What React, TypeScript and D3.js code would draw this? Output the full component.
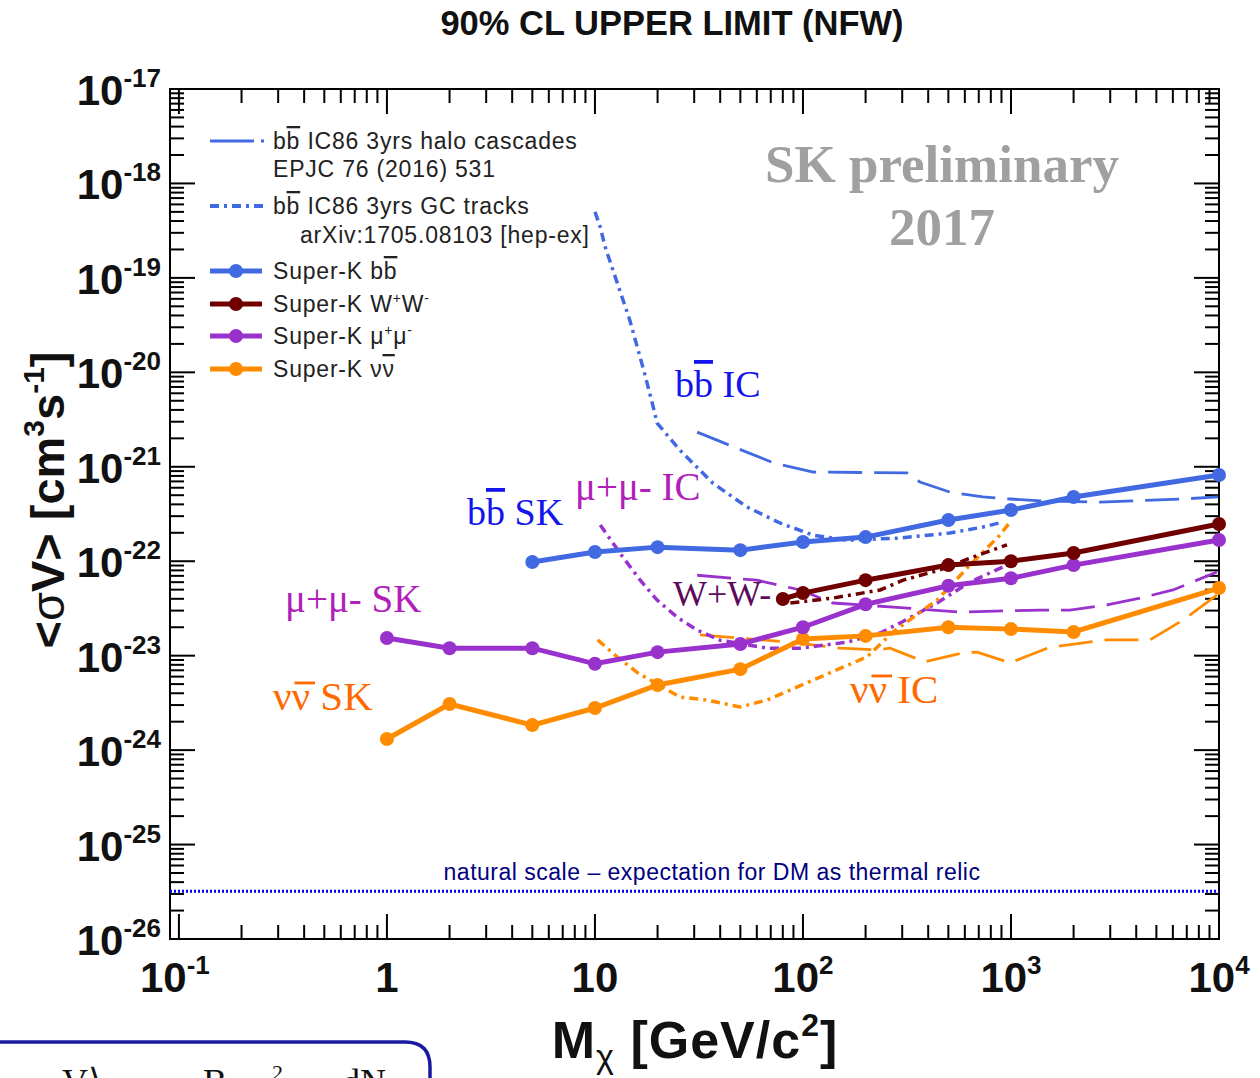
import React from 'react';
import * as d3 from 'd3';

// ---------- data ----------
const skMassBB = [5, 10, 20, 50, 100, 200, 500, 1000, 2000, 10000];
const skBB = [9.8e-23, 1.25e-22, 1.41e-22, 1.31e-22, 1.6e-22, 1.8e-22, 2.73e-22, 3.48e-22, 4.79e-22, 8.18e-22];
const skMassWW = [80, 100, 200, 500, 1000, 2000, 10000];
const skWW = [3.98e-23, 4.6e-23, 6.3e-23, 9.1e-23, 1.0e-22, 1.22e-22, 2.48e-22];
const skMassLep = [1, 2, 5, 10, 20, 50, 100, 200, 500, 1000, 2000, 10000];
const skMuMu = [1.54e-23, 1.2e-23, 1.2e-23, 8.2e-24, 1.09e-23, 1.33e-23, 2.0e-23, 3.5e-23, 5.5e-23, 6.6e-23, 9.1e-23, 1.68e-22];
const skNuNu = [1.31e-24, 3.08e-24, 1.84e-24, 2.79e-24, 4.89e-24, 7.2e-24, 1.5e-23, 1.62e-23, 2.0e-23, 1.91e-23, 1.78e-23, 5.2e-23];

const icBBHaloM = [31, 72, 112, 316, 365, 509, 733, 990, 1425, 2680, 6710, 9900];
const icBBHaloV = [2.33e-21, 1.1e-21, 8.8e-22, 8.6e-22, 6.9e-22, 5.4e-22, 4.79e-22, 4.56e-22, 4.34e-22, 4.23e-22, 4.56e-22, 4.79e-22];
const icBBGCM = [10, 10.6, 11.2, 14.7, 17.4, 18.8, 19.9, 25.6, 36.9, 53.8, 77.5, 112, 163, 293, 509, 733, 915];
const icBBGCV = [5.0e-19, 3.46e-19, 2.12e-19, 3.58e-20, 9.4e-21, 4.85e-21, 2.9e-21, 1.5e-21, 6.7e-22, 3.75e-22, 2.54e-22, 1.89e-22, 1.67e-22, 1.76e-22, 1.99e-22, 2.3e-22, 2.6e-22];
const icMuGCM = [10.6, 13.6, 16.5, 19.9, 24.8, 30.9, 39.9, 67.1, 96.8, 163, 235, 293, 441, 635, 957];
const icMuGCV = [2.42e-22, 1.11e-22, 6.3e-23, 3.88e-23, 2.56e-23, 1.87e-23, 1.46e-23, 1.2e-23, 1.2e-23, 1.39e-23, 1.74e-23, 2.22e-23, 3.61e-23, 6.0e-23, 9.1e-23];
const icMuHaloM = [31, 60, 97, 139, 271, 569, 1378, 1923, 2896, 4170, 6010, 9780];
const icMuHaloV = [7.1e-23, 6.3e-23, 4.96e-23, 3.61e-23, 3.27e-23, 2.9e-23, 3.04e-23, 3.04e-23, 3.44e-23, 4.07e-23, 4.96e-23, 7.7e-23];
const icNuGCM = [10.3, 12.8, 16.1, 25.6, 34.5, 49.8, 67.1, 121, 203, 271, 441, 635, 885, 989];
const icNuGCV = [1.47e-23, 9.7e-24, 6.55e-24, 3.65e-24, 3.39e-24, 2.86e-24, 3.39e-24, 5.94e-24, 9.7e-24, 1.78e-23, 3.88e-23, 9.1e-23, 1.89e-22, 2.6e-22];
const icNuHaloM = [32, 87, 151, 227, 262, 386, 588, 687, 989, 1540, 2896, 4660, 6710, 9780];
const icNuHaloV = [1.66e-23, 1.39e-23, 1.2e-23, 1.15e-23, 1.2e-23, 8.6e-24, 1.07e-23, 1.09e-23, 8.4e-24, 1.23e-23, 1.47e-23, 1.47e-23, 2.38e-23, 4.38e-23];
const icWWGCM = [87, 139, 235, 303, 456, 635, 957];
const icWWGCV = [3.61e-23, 4.07e-23, 4.96e-23, 6.3e-23, 8.1e-23, 1.08e-22, 1.49e-22];

const thermalRelic = 3.2e-26;
const xExps = [-1, 0, 1, 2, 3, 4];
const yExps = [-26, -25, -24, -23, -22, -21, -20, -19, -18, -17];

// ---------- styling ----------
const C_BB = '#4169e1';
const C_WW = '#700000';
const C_MU = '#9932cc';
const C_NU = '#ff8c00';
const SANS = 'Liberation Sans, Arial, sans-serif';
const SERIF = 'Liberation Serif, Times New Roman, serif';

const fx0 = 170, fx1 = 1219, fy0 = 89, fy1 = 939;
const x = d3.scaleLog().domain([0.0906, 1e4]).range([fx0, fx1]);
const y = d3.scaleLog().domain([1e-26, 1e-17]).range([fy1, fy0]);

const zip = (m: number[], v: number[]) => m.map((mm, i) => [mm, v[i]] as [number, number]);
const line = d3.line<[number, number]>().x(d => x(d[0])).y(d => y(d[1]));

const HALO_DASH = '34 12';
const GC_DASH = '9 5 3 5';

const icCurves = [
  { pts: zip(icBBHaloM, icBBHaloV), color: C_BB, dash: HALO_DASH, w: 2.8 },
  { pts: zip(icMuHaloM, icMuHaloV), color: C_MU, dash: HALO_DASH, w: 2.8 },
  { pts: zip(icNuHaloM, icNuHaloV), color: C_NU, dash: HALO_DASH, w: 2.8 },
  { pts: zip(icBBGCM, icBBGCV), color: C_BB, dash: GC_DASH, w: 3.5 },
  { pts: zip(icMuGCM, icMuGCV), color: C_MU, dash: GC_DASH, w: 3.5 },
  { pts: zip(icNuGCM, icNuGCV), color: C_NU, dash: GC_DASH, w: 3.5 },
  { pts: zip(icWWGCM, icWWGCV), color: C_WW, dash: GC_DASH, w: 3.5 },
];

const skCurves = [
  { pts: zip(skMassLep, skNuNu), color: C_NU },
  { pts: zip(skMassLep, skMuMu), color: C_MU },
  { pts: zip(skMassWW, skWW), color: C_WW },
  { pts: zip(skMassBB, skBB), color: C_BB },
];

function Sup({ children, size, dy }: { children: any; size: number; dy: number }) {
  return <tspan fontSize={size} dy={-dy}>{children}</tspan>;
}

// "νν̄" label in serif with a bar drawn over the second ν
function NuNuLabel({ x0, y0, size, suffix, fill }: { x0: number; y0: number; size: number; suffix: string; fill: string }) {
  const nuW = size * 0.5;
  const barY = y0 - size * 0.46 - size * 0.2;
  return (
    <g>
      <text x={x0} y={y0} fill={fill} fontSize={size}>νν {suffix}</text>
      <line x1={x0 + nuW + 1} x2={x0 + 2 * nuW + 1} y1={barY} y2={barY} stroke={fill} strokeWidth={size * 0.07} />
    </g>
  );
}

export default function App() {
  const xMajor = xExps.map(e => Math.pow(10, e));
  const yMajor = yExps.map(e => Math.pow(10, e));
  const xMinor: number[] = [];
  for (let e = -2; e < 4; e++) for (let k = 2; k <= 9; k++) {
    const v = k * Math.pow(10, e);
    if (v >= 0.0906 && v <= 1e4) xMinor.push(v);
  }
  const yMinor: number[] = [];
  for (let e = -26; e < -17; e++) for (let k = 2; k <= 9; k++) yMinor.push(k * Math.pow(10, e));

  const MAJ = 25, MIN = 14;
  const tickStroke = { stroke: '#000', strokeWidth: 2 };

  const legendSK = [
    { color: C_BB, y: 271, label: <>Super-K  b<tspan style={{ textDecoration: 'overline' }}>b</tspan></> },
    { color: C_WW, y: 304, label: <>Super-K W<tspan fontSize={14} dy={-9}>+</tspan><tspan dy={9}>W</tspan><tspan fontSize={14} dy={-9}>-</tspan></> },
    { color: C_MU, y: 336, label: <>Super-K μ<tspan fontSize={14} dy={-9}>+</tspan><tspan dy={9}>μ</tspan><tspan fontSize={14} dy={-9}>-</tspan></> },
    { color: C_NU, y: 369, label: <>Super-K ν<tspan style={{ textDecoration: 'overline' }}>ν</tspan></> },
  ];

  return (
    <svg width={1260} height={1078} style={{ position: 'absolute', left: 0, top: 0, background: '#fff' }}>
      <rect x={0} y={0} width={1260} height={1078} fill="#fff" />
      {/* title */}
      <text x={672} y={35} textAnchor="middle" fontFamily={SANS} fontWeight="bold" fontSize={34.5} fill="#111">90% CL UPPER LIMIT (NFW)</text>

      {/* frame */}
      <rect x={fx0} y={fy0} width={fx1 - fx0} height={fy1 - fy0} fill="none" stroke="#000" strokeWidth={2} />

      {/* ticks */}
      {xMajor.map((v, i) => (
        <g key={'xM' + i}>
          <line x1={x(v)} x2={x(v)} y1={fy1} y2={fy1 - MAJ} {...tickStroke} />
          <line x1={x(v)} x2={x(v)} y1={fy0} y2={fy0 + MAJ} {...tickStroke} />
        </g>
      ))}
      {xMinor.map((v, i) => (
        <g key={'xm' + i}>
          <line x1={x(v)} x2={x(v)} y1={fy1} y2={fy1 - MIN} {...tickStroke} />
          <line x1={x(v)} x2={x(v)} y1={fy0} y2={fy0 + MIN} {...tickStroke} />
        </g>
      ))}
      {yMajor.map((v, i) => (
        <g key={'yM' + i}>
          <line x1={fx0} x2={fx0 + MAJ} y1={y(v)} y2={y(v)} {...tickStroke} />
          <line x1={fx1} x2={fx1 - MAJ} y1={y(v)} y2={y(v)} {...tickStroke} />
        </g>
      ))}
      {yMinor.map((v, i) => (
        <g key={'ym' + i}>
          <line x1={fx0} x2={fx0 + MIN} y1={y(v)} y2={y(v)} {...tickStroke} />
          <line x1={fx1} x2={fx1 - MIN} y1={y(v)} y2={y(v)} {...tickStroke} />
        </g>
      ))}

      {/* tick labels */}
      {xExps.map((e, i) => (
        <text key={'xl' + i} x={x(Math.pow(10, e)) - (e === -1 ? 4 : 0)} y={992} textAnchor="middle" fontFamily={SANS} fontWeight="bold" fontSize={42} fill="#111">
          {e === 0 ? '1' : '10'}
          {e !== 0 && e !== 1 ? <Sup size={26} dy={18}>{String(e)}</Sup> : null}
        </text>
      ))}
      {yExps.map((e, i) => (
        <text key={'yl' + i} x={161} y={y(Math.pow(10, e)) + 16} textAnchor="end" fontFamily={SANS} fontWeight="bold" fontSize={42} fill="#111">
          10<Sup size={26} dy={18}>{String(e)}</Sup>
        </text>
      ))}

      {/* axis titles */}
      <text transform="translate(64,500) rotate(-90)" textAnchor="middle" fontFamily={SANS} fontWeight="bold" fontSize={47} fill="#111">
        {'<'}<tspan fontWeight="normal">σ</tspan>{'V> [cm'}<tspan fontSize={30} dy={-20}>3</tspan><tspan dy={20}>s</tspan><tspan fontSize={30} dy={-20}>-1</tspan><tspan dy={20}>]</tspan>
      </text>
      <text x={695} y={1058} textAnchor="middle" fontFamily={SANS} fontWeight="bold" fontSize={52} fill="#111" letterSpacing={1}>
        M<tspan fontWeight="normal" fontSize={34} dy={10}>χ</tspan><tspan dy={-10}> [GeV/c</tspan><tspan fontSize={32} dy={-22}>2</tspan><tspan dy={22}>]</tspan>
      </text>

      {/* thermal relic */}
      <line x1={fx0} x2={fx1} y1={y(thermalRelic)} y2={y(thermalRelic)} stroke="#0000ff" strokeWidth={3} strokeDasharray="2 2" />
      <text x={712} y={880} textAnchor="middle" fontFamily={SANS} fontSize={23} letterSpacing={0.5} fill="#000080">natural scale – expectation for DM as thermal relic</text>

      {/* IC curves */}
      {icCurves.map((c, i) => (
        <path key={'ic' + i} d={line(c.pts) || ''} fill="none" stroke={c.color} strokeWidth={c.w} strokeDasharray={c.dash} />
      ))}

      {/* SK curves */}
      {skCurves.map((c, i) => (
        <g key={'sk' + i}>
          <path d={line(c.pts) || ''} fill="none" stroke={c.color} strokeWidth={5} />
          {c.pts.map((p, j) => (
            <circle key={j} cx={x(p[0])} cy={y(p[1])} r={7} fill={c.color} />
          ))}
        </g>
      ))}

      {/* legend */}
      <g fontFamily={SANS} fontSize={23} letterSpacing={0.8} fill="#222">
        <line x1={210} x2={264} y1={141} y2={141} stroke={C_BB} strokeWidth={2.8} strokeDasharray="44 7 4 7" />
        <text x={273} y={149}>b<tspan style={{ textDecoration: 'overline' }}>b</tspan> IC86 3yrs halo cascades</text>
        <text x={273} y={177}>EPJC 76 (2016) 531</text>
        <line x1={210} x2={264} y1={206} y2={206} stroke={C_BB} strokeWidth={4} strokeDasharray={GC_DASH} />
        <text x={273} y={214}>b<tspan style={{ textDecoration: 'overline' }}>b</tspan> IC86 3yrs GC tracks</text>
        <text x={300} y={243}>arXiv:1705.08103 [hep-ex]</text>
        {legendSK.map((l, i) => (
          <g key={'lg' + i}>
            <line x1={210} x2={262} y1={l.y} y2={l.y} stroke={l.color} strokeWidth={5} />
            <circle cx={236} cy={l.y} r={7} fill={l.color} />
            <text x={273} y={l.y + 8}>{l.label}</text>
          </g>
        ))}
      </g>

      {/* annotations */}
      <g fontFamily={SERIF} fontSize={38}>
        <text x={675} y={397} fill="#1414ee">b<tspan style={{ textDecoration: 'overline' }}>b</tspan> IC</text>
        <text x={467} y={525} fill="#1414ee">b<tspan style={{ textDecoration: 'overline' }}>b</tspan> SK</text>
        <text x={575} y={500} fill="#b020b8" fontSize={39}>μ+μ- IC</text>
        <text x={673} y={606} fill="#5c0a5c" fontSize={36}>W+W-</text>
        <text x={285} y={612} fill="#b020b8" fontSize={39}>μ+μ- SK</text>
        <NuNuLabel x0={273} y0={710} size={41} suffix="SK" fill="#ff6a00" />
        <NuNuLabel x0={850} y0={703} size={41} suffix="IC" fill="#ff6a00" />
      </g>
      <g fontFamily={SERIF} fontWeight="bold" fontSize={53} fill="#a0a0a0" textAnchor="middle">
        <text x={942} y={182}>SK preliminary</text>
        <text x={942} y={245}>2017</text>
      </g>

      {/* bottom-left box (cut off at page edge as in the reference) */}
      <path d="M -5 1042 L 405 1042 Q 430 1042 430 1067 L 430 1090" fill="none" stroke="#1a1aa0" strokeWidth={3.5} />
      <g fontFamily={SERIF} fontSize={36} fill="#111">
        <text x={62} y={1094}>V⟩</text>
        <text x={203} y={1094}>B</text>
        <text x={272} y={1080} fontSize={22}>2</text>
        <text x={342} y={1094}>dN</text>
      </g>
    </svg>
  );
}
